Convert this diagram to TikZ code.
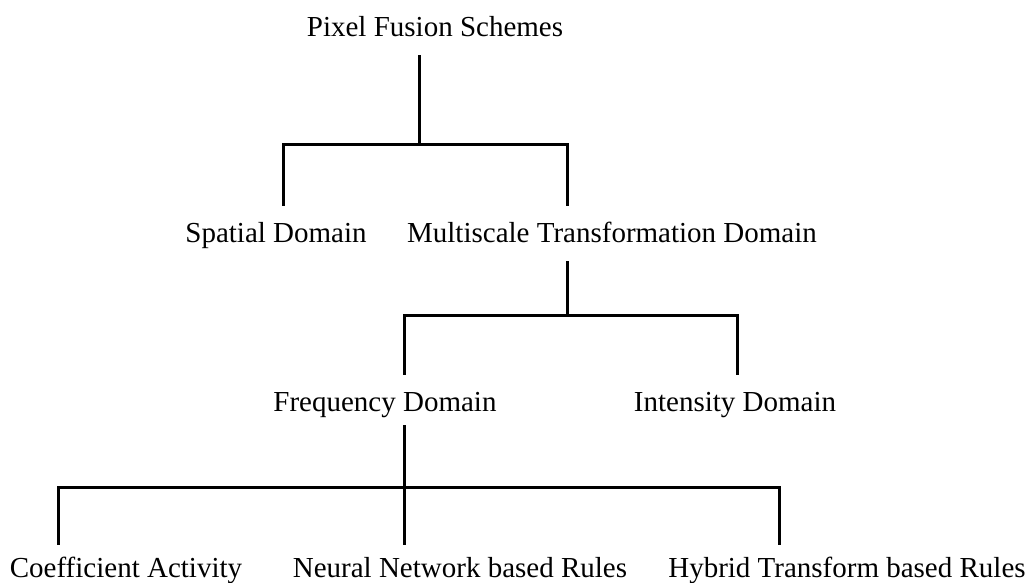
\documentclass[tikz,border=0pt]{standalone}
\usepackage{fontspec}
\setmainfont{Liberation Serif}
\begin{document}
\begin{tikzpicture}[x=1pt,y=-1pt,
  lbl/.style={inner sep=0pt, minimum height=50pt, text height=19pt, text depth=6pt, anchor=center,
    font=\fontsize{29}{34}\selectfont},
  conn/.style={line width=3pt, line join=miter}]
\useasboundingbox (0,0) rectangle (1034,583);
\node[lbl] (root) at (435,30) {Pixel Fusion Schemes};
\node[lbl] (sp) at (276,236) {Spatial Domain};
\node[lbl] (ms) at (612,236) {Multiscale Transformation Domain};
\node[lbl] (fd) at (385,405) {Frequency Domain};
\node[lbl] (id) at (735,405) {Intensity Domain};
\node[lbl] (ca) at (126,571) {Coefficient Activity};
\node[lbl] (nn) at (460,571) {Neural Network based Rules};
\node[lbl] (hy) at (847,571) {Hybrid Transform based Rules};
\coordinate (j1) at (419,145);
\coordinate (j2) at (567,315);
\coordinate (j3) at (404,487);
\draw[conn] (j1 |- root.south) -- (j1);
\draw[conn] ([xshift=7pt,yshift=5pt]sp.north) |- (j1) -| ([xshift=-45pt,yshift=5pt]ms.north);
\draw[conn] ([xshift=-45pt]ms.south) -- (j2);
\draw[conn] ([xshift=19pt,yshift=5pt]fd.north) |- (j2) -| ([xshift=2pt,yshift=5pt]id.north);
\draw[conn] ([xshift=19pt,yshift=5pt]fd.south) -- (j3);
\draw[conn] ([xshift=-68pt,yshift=1pt]ca.north) |- (j3) -| ([xshift=-68pt,yshift=1pt]hy.north);
\draw[conn] (j3) -- ([xshift=-56pt,yshift=1pt]nn.north);
\end{tikzpicture}
\end{document}
